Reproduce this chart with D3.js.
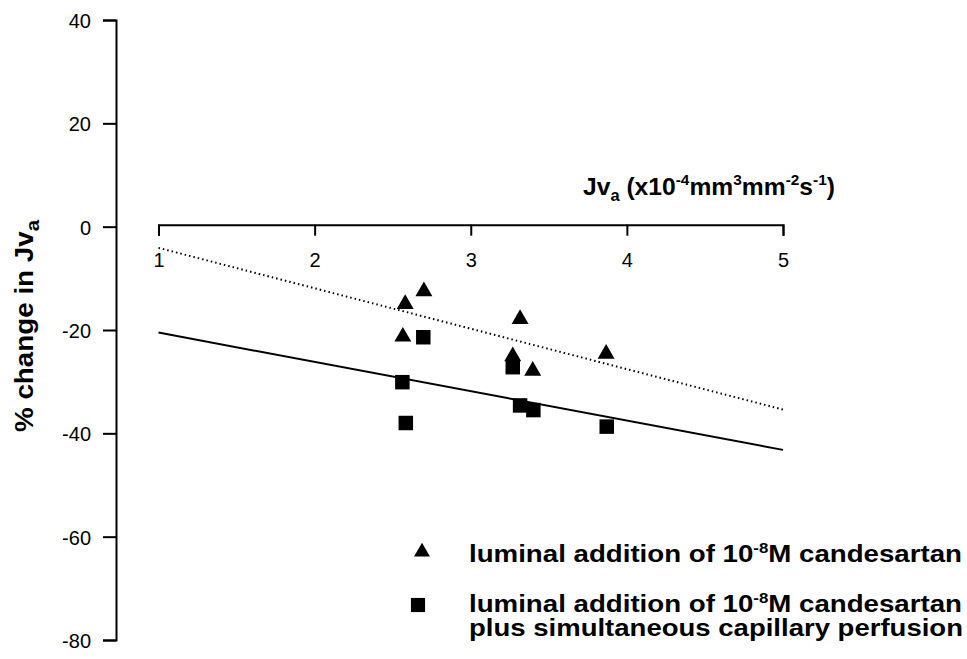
<!DOCTYPE html>
<html lang="en">
<head>
<meta charset="utf-8">
<title>% change in Jva vs Jva</title>
<script src="https://cdnjs.cloudflare.com/ajax/libs/d3/7.8.5/d3.min.js"></script>
<style>
    body { margin: 0; background: #fff; }
    svg { display: block; font-family: "Liberation Sans", Arial, sans-serif; }
    .tick text { fill: #000; }
</style>
</head>
<body>
<script>
// values
var lumTriX = [2.58, 2.70, 2.565, 3.316, 3.269, 3.397, 3.867];
var lumTriY = [-15.0, -12.5, -21.3, -17.9, -25.1, -27.9, -24.6];
var capSqX  = [2.696, 2.562, 2.584, 3.316, 3.401, 3.871, 3.269];
var capSqY  = [-21.4, -30.1, -38.0, -34.6, -35.5, -38.7, -27.2];
// fitted lines, endpoints at x=1 and x=5
var fitLumX = [1, 5], fitLumY = [-4.1, -35.4];
var fitCapX = [1, 5], fitCapY = [-20.5, -43.2];
var xTicks = [1, 2, 3, 4, 5];
var yTicks = [40, 20, 0, -20, -40, -60, -80];

var width = 967, height = 659;

var svg = d3.select("body").append("svg")
    .attr("width", width).attr("height", height);

var x = d3.scaleLinear().domain([1, 5]).range([158.5, 783]);
var y = d3.scaleLinear().domain([-80, 40]).range([640, 20]);

// y axis
var yAxis = svg.append("g")
    .attr("transform", "translate(116,0)")
    .call(d3.axisLeft(y).tickValues(yTicks).tickFormat(function(d) { return String(d); })
        .tickSize(13).tickPadding(12));
yAxis.selectAll("text").style("font-size", "20px").attr("dy", "0.38em");

// x axis, running along y = 0
var xAxis = svg.append("g")
    .attr("transform", "translate(0," + (y(0) - 2) + ")")
    .call(d3.axisBottom(x).tickValues(xTicks).tickFormat(function(d) { return String(d); })
        .tickSize(11).tickSizeOuter(11).tickPadding(17));
xAxis.selectAll("text").style("font-size", "20px");

svg.selectAll(".domain, .tick line")
    .attr("stroke", "#000").attr("stroke-width", 2);

// regression lines
var line = d3.line().x(function(d) { return x(d[0]); }).y(function(d) { return y(d[1]); });
svg.append("path")
    .datum(d3.zip(fitLumX, fitLumY))
    .attr("d", line)
    .attr("fill", "none").attr("stroke", "#000")
    .attr("stroke-width", 2).attr("stroke-dasharray", "1.5,3");
svg.append("path")
    .datum(d3.zip(fitCapX, fitCapY))
    .attr("d", line)
    .attr("fill", "none").attr("stroke", "#000")
    .attr("stroke-width", 2);

var tri = d3.symbol().type(d3.symbolTriangle).size(125);
var sq = d3.symbol().type(d3.symbolSquare).size(210);

svg.selectAll("path.sq").data(d3.zip(capSqX, capSqY)).enter().append("path")
    .attr("class", "sq")
    .attr("d", sq)
    .attr("transform", function(d) { return "translate(" + x(d[0]) + "," + y(d[1]) + ")"; })
    .attr("fill", "#000");

svg.selectAll("path.tri").data(d3.zip(lumTriX, lumTriY)).enter().append("path")
    .attr("class", "tri")
    .attr("d", tri)
    .attr("transform", function(d) { return "translate(" + x(d[0]) + "," + y(d[1]) + ")"; })
    .attr("fill", "#000");

// x axis title
var xt = svg.append("text")
    .attr("x", 583).attr("y", 195)
    .attr("textLength", 252).attr("lengthAdjust", "spacingAndGlyphs")
    .style("font-size", "24px").style("font-weight", "bold");
xt.append("tspan").text("Jv");
xt.append("tspan").attr("dy", 6).style("font-size", "16px").text("a");
xt.append("tspan").attr("dy", -6).text(" (x10");
xt.append("tspan").attr("dy", -10).style("font-size", "15px").text("-4");
xt.append("tspan").attr("dy", 10).text("mm");
xt.append("tspan").attr("dy", -10).style("font-size", "15px").text("3");
xt.append("tspan").attr("dy", 10).text("mm");
xt.append("tspan").attr("dy", -10).style("font-size", "15px").text("-2");
xt.append("tspan").attr("dy", 10).text("s");
xt.append("tspan").attr("dy", -10).style("font-size", "15px").text("-1");
xt.append("tspan").attr("dy", 10).text(")");

// y axis title
var yt = svg.append("text")
    .attr("transform", "translate(33,432) rotate(-90)")
    .attr("textLength", 212).attr("lengthAdjust", "spacingAndGlyphs")
    .style("font-size", "26px").style("font-weight", "bold");
yt.append("tspan").text("% change in Jv");
yt.append("tspan").attr("dy", 6).style("font-size", "19px").text("a");

// legend
var legend = svg.append("g");
legend.append("path").attr("d", d3.symbol().type(d3.symbolTriangle).size(110)).attr("fill", "#000")
    .attr("transform", "translate(422,552)");
legend.append("path").attr("d", d3.symbol().type(d3.symbolSquare).size(200)).attr("fill", "#000")
    .attr("transform", "translate(418,605)");

function legendLine(yy) {
    var t = legend.append("text").attr("x", 469).attr("y", yy)
        .attr("textLength", 493).attr("lengthAdjust", "spacingAndGlyphs")
        .style("font-size", "23px").style("font-weight", "bold");
    t.append("tspan").text("luminal addition of 10");
    t.append("tspan").attr("dy", -9).style("font-size", "14px").text("-8");
    t.append("tspan").attr("dy", 9).text("M candesartan");
    return t;
}
legendLine(562);
legendLine(612);
legend.append("text").attr("x", 469).attr("y", 636)
    .attr("textLength", 494).attr("lengthAdjust", "spacingAndGlyphs")
    .style("font-size", "23px").style("font-weight", "bold")
    .text("plus simultaneous capillary perfusion");
</script>
</body>
</html>
